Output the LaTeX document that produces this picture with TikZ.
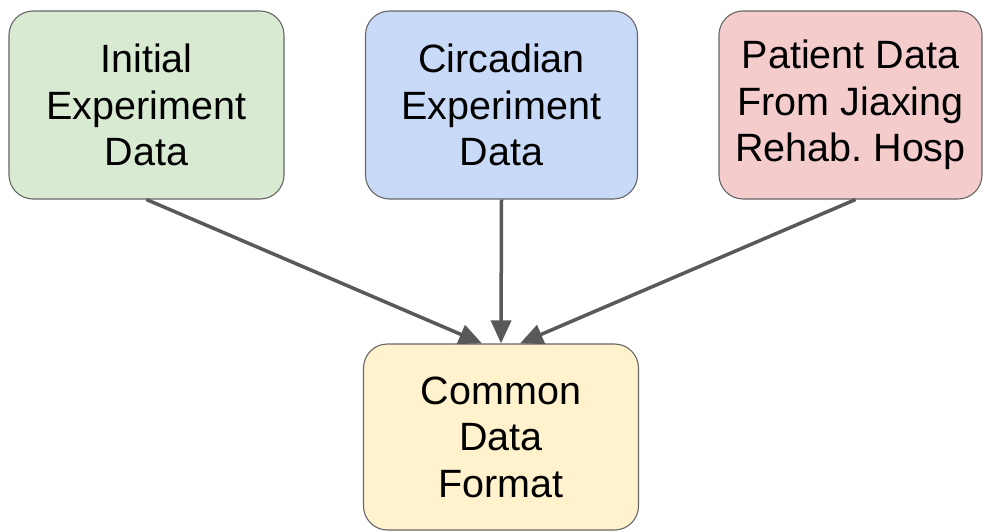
\documentclass[tikz,border=0pt]{standalone}
\usepackage{fontspec}
\setmainfont{Liberation Sans}
\usetikzlibrary{arrows.meta}
\definecolor{boxline}{HTML}{666666}
\definecolor{arrowgray}{HTML}{595959}
\definecolor{fillgreen}{HTML}{D9EAD3}
\definecolor{fillblue}{HTML}{C9DAF8}
\definecolor{fillred}{HTML}{F4CCCC}
\definecolor{fillyellow}{HTML}{FFF2CC}
\tikzset{
  databox/.style={draw=boxline, line width=1.1pt, rounded corners=24pt,
    minimum height=188pt, inner sep=0pt, align=center,
    font=\fontsize{39.5}{46.5}\selectfont\frenchspacing},
  flow/.style={draw=arrowgray, line width=3.5pt,
    -{Triangle[length=23pt 0 0,width=20pt 0 0]}}
}
\begin{document}
\begin{tikzpicture}[x=1pt,y=-1pt]
  \useasboundingbox (0,0) rectangle (983,532);
  % source data sets
  \node[databox, fill=fillgreen, minimum width=275pt] (init) at (146.5,105) {Initial\\Experiment\\Data};
  \node[databox, fill=fillblue, minimum width=272pt] (circ) at (501.5,105) {Circadian\\Experiment\\Data};
  \node[databox, fill=fillred, minimum width=263pt] (pat) at (850.5,105) {Patient Data\\From Jiaxing\\Rehab. Hosp};
  % merged target format
  \node[databox, fill=fillyellow, minimum width=275pt, minimum height=186pt] (common) at (501,437) {Common\\Data\\Format};
  % conversions into the common format
  \draw[flow] (init.south) -- ([xshift=-19pt]common.north);
  \draw[flow] (circ.south) -- (common.north);
  \draw[flow] ([xshift=5pt]pat.south) -- ([xshift=19pt]common.north);
\end{tikzpicture}
\end{document}
